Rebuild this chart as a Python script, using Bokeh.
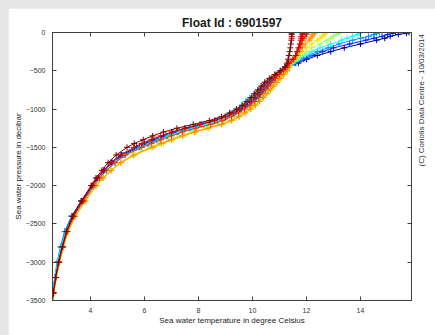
import math
from bokeh.plotting import figure
from bokeh.models import LinearAxis, Range1d, FixedTicker
from bokeh.embed import file_html
from bokeh.resources import INLINE

# ---------------- data ----------------
pressure = [0, -10, -25, -50, -75, -100, -150, -200, -250, -300, -350, -400,
            -450, -500, -550, -600, -650, -700, -750, -800, -850, -900, -950, -1000,
            -1050, -1100, -1150, -1200, -1250, -1300, -1350, -1400, -1450, -1500,
            -1600, -1700, -1800, -1900, -2000, -2200, -2400, -2600, -2800, -3000,
            -3200, -3400, -3500]

t_cycle01 = [15.8, 15.7, 15.4, 15.1, 14.9, 14.6, 14.0, 13.4, 12.9, 12.4, 12.0, 11.7,
             11.3, 11.15, 10.95, 10.8, 10.65, 10.5, 10.38, 10.25, 10.1, 9.95, 9.75, 9.55,
             9.3, 9.0, 8.6, 8.1, 7.5, 7.05, 6.7, 6.35, 6.0, 5.7,
             5.15, 4.78, 4.5, 4.25, 4.05, 3.65, 3.3, 3.05, 2.9, 2.78, 2.68, 2.6, 2.57]
t_cycle02 = [15.3, 15.2, 15.0, 14.8, 14.5, 14.2, 13.6, 13.0, 12.6, 12.2, 11.9, 11.6,
             11.25, 11.1, 10.95, 10.8, 10.68, 10.55, 10.42, 10.3, 10.15, 9.98, 9.8, 9.6,
             9.35, 9.05, 8.7, 8.2, 7.65, 7.2, 6.8, 6.45, 6.1, 5.8,
             5.2, 4.82, 4.52, 4.28, 4.08, 3.68, 3.32, 3.07, 2.92, 2.79, 2.69, 2.61, 2.57]
t_cycle03 = [14.7, 14.6, 14.5, 14.3, 14.0, 13.7, 13.2, 12.8, 12.4, 12.1, 11.8, 11.55,
             11.2, 11.05, 10.85, 10.65, 10.5, 10.35, 10.2, 10.05, 9.9, 9.75, 9.6, 9.42,
             9.2, 8.95, 8.65, 8.2, 7.7, 7.25, 6.85, 6.5, 6.15, 5.85,
             5.25, 4.9, 4.6, 4.35, 4.12, 3.7, 3.3, 3.04, 2.88, 2.76, 2.67, 2.6, 2.56]
t_cycle04 = [14.0, 13.95, 13.9, 13.7, 13.5, 13.3, 12.9, 12.5, 12.2, 11.95, 11.7, 11.5,
             11.25, 11.1, 10.9, 10.7, 10.55, 10.42, 10.3, 10.15, 10.0, 9.85, 9.68, 9.5,
             9.28, 9.05, 8.75, 8.3, 7.8, 7.3, 6.9, 6.55, 6.2, 5.85,
             5.3, 4.92, 4.62, 4.38, 4.15, 3.75, 3.35, 3.08, 2.9, 2.78, 2.68, 2.6, 2.57]
t_cycle05 = [13.2, 13.2, 13.1, 13.0, 12.9, 12.75, 12.5, 12.2, 12.0, 11.85, 11.65, 11.45,
             11.35, 11.25, 11.12, 10.98, 10.85, 10.72, 10.6, 10.48, 10.35, 10.2, 10.05, 9.85,
             9.65, 9.4, 9.15, 8.75, 8.25, 7.75, 7.3, 6.9, 6.55, 6.2,
             5.55, 5.1, 4.75, 4.45, 4.2, 3.8, 3.42, 3.15, 2.98, 2.84, 2.72, 2.63, 2.59]
t_cycle06 = [12.7, 12.7, 12.65, 12.6, 12.5, 12.4, 12.2, 12.0, 11.85, 11.75, 11.6, 11.45,
             11.38, 11.3, 11.18, 11.05, 10.92, 10.8, 10.68, 10.55, 10.42, 10.28, 10.12, 9.95,
             9.75, 9.52, 9.25, 8.9, 8.4, 7.9, 7.45, 7.05, 6.7, 6.35,
             5.65, 5.15, 4.78, 4.48, 4.22, 3.82, 3.44, 3.17, 3.0, 2.85, 2.73, 2.64, 2.59]
t_cycle07 = [12.3, 12.3, 12.25, 12.2, 12.15, 12.1, 11.95, 11.85, 11.75, 11.65, 11.55, 11.4,
             11.35, 11.28, 11.15, 11.02, 10.9, 10.78, 10.66, 10.54, 10.4, 10.26, 10.1, 9.92,
             9.72, 9.5, 9.22, 8.85, 8.35, 7.85, 7.4, 7.0, 6.62, 6.28,
             5.6, 5.12, 4.76, 4.46, 4.2, 3.8, 3.43, 3.16, 2.99, 2.85, 2.73, 2.64, 2.6]
t_cycle08 = [12.0, 12.0, 12.0, 11.95, 11.9, 11.85, 11.8, 11.75, 11.65, 11.6, 11.5, 11.35,
             11.28, 11.15, 11.0, 10.85, 10.72, 10.6, 10.48, 10.35, 10.22, 10.08, 9.9, 9.7,
             9.48, 9.22, 8.9, 8.45, 7.9, 7.4, 7.0, 6.6, 6.25, 5.9,
             5.3, 4.9, 4.58, 4.33, 4.12, 3.74, 3.38, 3.13, 2.97, 2.83, 2.72, 2.63, 2.59]
t_cycle09 = [11.85, 11.85, 11.85, 11.8, 11.8, 11.78, 11.75, 11.7, 11.65, 11.6, 11.5, 11.35,
             11.22, 11.05, 10.88, 10.7, 10.55, 10.42, 10.3, 10.18, 10.05, 9.9, 9.72, 9.52,
             9.28, 9.0, 8.6, 8.05, 7.5, 7.0, 6.6, 6.25, 5.9, 5.6,
             5.1, 4.75, 4.48, 4.25, 4.06, 3.7, 3.36, 3.12, 2.96, 2.82, 2.71, 2.62, 2.58]
t_cycle10 = [11.45, 11.45, 11.45, 11.45, 11.45, 11.44, 11.42, 11.4, 11.38, 11.35, 11.32, 11.27,
             11.2, 11.02, 10.82, 10.62, 10.45, 10.32, 10.2, 10.08, 9.95, 9.8, 9.62, 9.4,
             9.15, 8.85, 8.4, 7.8, 7.2, 6.7, 6.3, 5.95, 5.62, 5.35,
             4.95, 4.65, 4.42, 4.2, 4.02, 3.66, 3.33, 3.1, 2.95, 2.81, 2.7, 2.62, 2.58]

profiles = [t_cycle01, t_cycle02, t_cycle03, t_cycle04, t_cycle05,
            t_cycle06, t_cycle07, t_cycle08, t_cycle09, t_cycle10]
cycle_colors = ["#00008F", "#0020FF", "#0090FF", "#10FFEF", "#9FFF60",
                "#FFE000", "#FF9000", "#FF3000", "#D00000", "#800000"]

x_ticks = [4, 6, 8, 10, 12, 14]
y_ticks = [0, -500, -1000, -1500, -2000, -2500, -3000, -3500]

title_text = "Float Id : 6901597"
x_label = "Sea water temperature in degree Celsius"
y_label = "Sea water pressure in decibar"
credit_text = "(C) Coriolis Data Centre - 10/03/2014"

FONT = "Liberation Sans"
AXC = "#404040"

p = figure(width=427, height=327, output_backend="svg", toolbar_location=None,
           x_range=Range1d(2.59, 15.89), y_range=Range1d(-3500, 0),
           min_border_left=44, min_border_right=24, min_border_top=24,
           min_border_bottom=35, background_fill_color="white",
           border_fill_color="white", outline_line_color=AXC)

p.title.text = title_text
p.title.align = "center"
p.title.text_font = FONT
p.title.text_font_size = "12px"
p.title.text_font_style = "bold"
p.title.text_color = "#1a1a1a"
p.title.standoff = 5

p.grid.visible = False

def style_axis(ax, labels=True):
    ax.axis_line_color = AXC
    ax.major_tick_line_color = AXC
    ax.major_tick_in = 4
    ax.major_tick_out = 0
    ax.minor_tick_line_color = None
    ax.major_label_text_font = FONT
    ax.major_label_text_color = "#333333"
    ax.axis_label_text_font = FONT
    ax.axis_label_text_font_style = "normal"
    ax.axis_label_text_color = "#222222"
    ax.axis_label_text_font_size = "8px"
    if labels:
        ax.major_label_text_font_size = "7px"
    else:
        ax.major_label_text_font_size = "1px"
        ax.major_label_text_color = None
        ax.major_label_standoff = 0

p.xaxis.ticker = FixedTicker(ticks=x_ticks)
p.yaxis.ticker = FixedTicker(ticks=y_ticks)
p.xaxis.axis_label = x_label
p.yaxis.axis_label = y_label
style_axis(p.xaxis[0])
style_axis(p.yaxis[0])
p.xaxis.major_label_standoff = 7
p.xaxis.axis_label_standoff = 0
p.yaxis.major_label_standoff = 7
p.yaxis.axis_label_standoff = 0

top_ax = LinearAxis(ticker=FixedTicker(ticks=x_ticks))
style_axis(top_ax, labels=False)
p.add_layout(top_ax, "above")

# right axis: mirrored ticks + the credit line, reading bottom to top
right_ax = LinearAxis(ticker=FixedTicker(ticks=y_ticks), axis_label=credit_text)
style_axis(right_ax, labels=False)
right_ax.axis_label_text_color = "#333333"
right_ax.axis_label_standoff = 10
if "axis_label_orientation" in LinearAxis.properties():
    right_ax.axis_label_orientation = math.pi / 2
p.add_layout(right_ax, "right")

for temps, col in zip(profiles, cycle_colors):
    if len(temps) != len(pressure):
        raise ValueError("length mismatch")
    p.line(temps, pressure, line_color=col, line_width=1)
    p.scatter(temps, pressure, marker="cross", size=6, line_color=col, line_width=1)

html = file_html(p, INLINE, title=title_text)
html = html.replace(
    "</head>",
    "<style>html,body{background:#e6e6e6 !important;overflow:hidden !important}"
    "body{margin:8px 0 0 8px !important}</style></head>", 1)
open("out.html", "w").write(html)
